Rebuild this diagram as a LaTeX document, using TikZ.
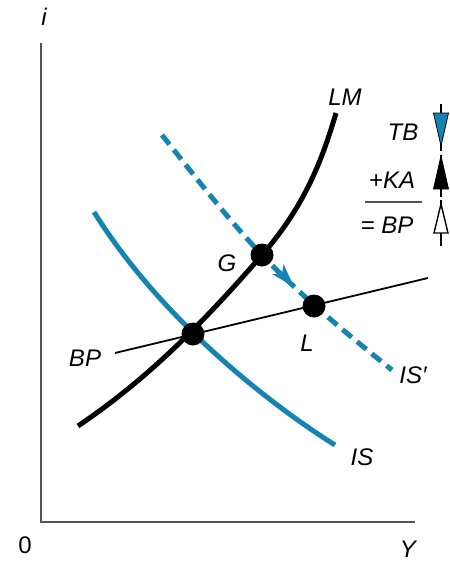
\documentclass[tikz,border=0pt]{standalone}
\usepackage{fontspec}
\setmainfont{Liberation Sans}
\definecolor{isblue}{RGB}{22,132,178}
\definecolor{axisgray}{RGB}{85,85,85}
\begin{document}
\begin{tikzpicture}[x=1pt,y=-1pt,
  lbl/.style={font=\fontsize{24}{26}\selectfont\itshape, inner sep=0pt},
  axisline/.style={axisgray, line width=2.4pt},
  blackcurve/.style={black, line width=5pt},
  bluecurve/.style={isblue, line width=5pt},
  dashcurve/.style={isblue, line width=5pt, dash pattern=on 12pt off 7pt},
  bpline/.style={black, line width=1.8pt},
  dot/.style={circle, fill=black, minimum size=23pt, inner sep=0pt},
  stem/.style={black, line width=1.6pt}]
\useasboundingbox (0,0) rectangle (450,563);
% axes
\coordinate (origin) at (41,522);
\coordinate (itop) at (41,43);
\coordinate (yend) at (415,522);
\draw[axisline] (itop) -- (origin) -- (yend);
\node[lbl] (ilabel) at (44,17) {i};
\node[lbl, font=\fontsize{24}{26}\selectfont] (zero) at (25,545) {0};
\node[lbl] (ylabel) at (408,549) {Y};
% IS
\coordinate (is1) at (94,212);
\coordinate (is2) at (335,445);
\draw[bluecurve] (is1) .. controls (161,319) and (268,403) .. (is2);
% IS'
\coordinate (isp1) at (162,135);
\coordinate (ispG) at (262,255);
\coordinate (isp2) at (392,370);
\draw[dashcurve] (isp1) .. controls (197,179) and (227,218) .. (ispG)
                 .. controls (302,297) and (352,338) .. (isp2);
\fill[isblue] (294,287) -- (283.6,264.2) -- (282,273.7) -- (272.4,274.2) -- cycle;
% LM
\coordinate (lm1) at (78,426);
\coordinate (lmG) at (262,255);
\coordinate (lm2) at (336,113);
\draw[blackcurve] (lm1) .. controls (143,382) and (197,330) .. (lmG)
                  .. controls (302,209) and (320.6,165.8) .. (lm2);
% BP
\coordinate (bp1) at (115,353);
\coordinate (bp2) at (428,278);
\draw[bpline] (bp1) -- (bp2);
% dots
\node[dot] (E) at (193,334) {};
\node[dot] (G) at (262,255) {};
\node[dot] (L) at (314,306) {};
% labels
\node[lbl] (lmlabel) at (345,97) {LM};
\node[lbl] (glabel) at (227,263) {G};
\node[lbl] (llabel) at (307,343) {L};
\node[lbl] (bplabel) at (85,358) {BP};
\node[lbl] (isplabel) at (413,375) {IS\symbol{"2032}};
\node[lbl] (islabel) at (362,457) {IS};
\node[lbl] (tblabel) at (403,132) {TB};
\node[lbl] (kalabel) at (392,180) {+KA};
\node[lbl] (eqbplabel) at (387,225) {= BP};
\coordinate (bar1) at (365,202);
\coordinate (bar2) at (422,202);
\draw[axisgray, line width=1.8pt] (bar1) -- (bar2);
% right arrows
\draw[stem] (441,104) -- (441,151);
\filldraw[fill=isblue, draw=black, line width=0.8pt] (433.5,113) -- (448.5,113) -- (441,146) -- cycle;
\draw[stem] (441,155) -- (441,197);
\filldraw[fill=black, draw=black, line width=0.8pt] (441,156) -- (448.5,189) -- (433.5,189) -- cycle;
\draw[stem] (441,200) -- (441,246);
\filldraw[fill=white, draw=black, line width=1.4pt] (441,204) -- (448,233) -- (434,233) -- cycle;
\end{tikzpicture}
\end{document}
